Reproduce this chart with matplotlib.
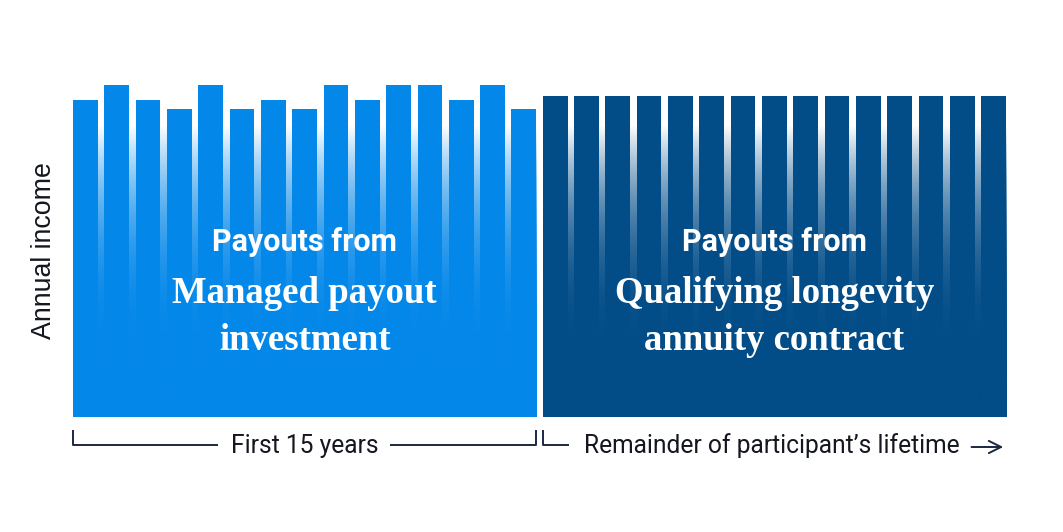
import numpy as np
import matplotlib.pyplot as plt
from matplotlib.colors import to_rgb

# ==========================
# Dados
# ==========================
# Renda anual (unidades arbitrárias) para cada ano
managed_income = [317, 332, 317, 308, 332, 308, 317, 308, 332, 317, 332, 332, 317, 332, 308]
annuity_income = [321] * 15

managed_label = ["Payouts from", "Managed payout\ninvestment"]
annuity_label = ["Payouts from", "Qualifying longevity\nannuity contract"]
period_labels = ["First 15 years", "Remainder of participant\u2019s lifetime"]
y_label = "Annual income"

# ==========================
# Estilo
# ==========================
c_managed = "#0387E9"
c_annuity = "#024C87"
c_text = "#14171f"
c_line = "#1b2740"
bar_w = 0.79

fig = plt.figure(figsize=(10.63, 5.32), dpi=100)
ax = fig.add_axes([73 / 1063, (532 - 417) / 532, 933 / 1063, 417 / 532])

n1 = len(managed_income)
n2 = len(annuity_income)
x1 = np.arange(n1)
x2 = np.arange(n1, n1 + n2)


def gradient(color):
    # faixa que desbota do azul (embaixo) para branco (em cima)
    h = np.linspace(0, 417, 400)
    s = np.clip((h - 57) / 235, 0, 1)
    alpha = 1 - s ** 2.5
    rgba = np.zeros((len(h), 1, 4))
    rgba[:, 0, :3] = to_rgb(color)
    rgba[:, 0, 3] = alpha
    return rgba


ax.imshow(gradient(c_managed), extent=[0, n1 - 1 + bar_w, 0, 417],
          origin="lower", aspect="auto", zorder=1, interpolation="bilinear")
ax.imshow(gradient(c_annuity), extent=[n1, n1 + n2 - 1 + bar_w, 0, 417],
          origin="lower", aspect="auto", zorder=1, interpolation="bilinear")

ax.bar(x1, managed_income, width=bar_w, align="edge", color=c_managed, zorder=2)
ax.bar(x2, annuity_income, width=bar_w, align="edge", color=c_annuity, zorder=2)

ax.set_xlim(0, n1 + n2 - 1 + bar_w)
ax.set_ylim(0, 417)
ax.axis("off")

# ==========================
# Textos dentro das barras
# ==========================
cx1 = (n1 - 1 + bar_w) / 2
cx2 = n1 + (n2 - 1 + bar_w) / 2
for cx, lab in [(cx1, managed_label), (cx2, annuity_label)]:
    ax.text(cx, 175, lab[0], ha="center", va="center", color="white",
            fontsize=22, fontweight="bold", family="Roboto", zorder=3)
    ax.text(cx, 100, lab[1], ha="center", va="center", color="white",
            fontsize=26.5, fontweight="bold", family="Liberation Serif",
            linespacing=1.42, zorder=3)

fig.text(44 / 1063, 1 - 251 / 532, y_label, rotation=90, ha="center", va="center",
         fontsize=19.3, family="Liberation Sans", color=c_text)

# ==========================
# Colchetes de período
# ==========================
yb = -28
yt = -14
x_end1 = n1 - 1 + bar_w
ax.plot([0, 0, 4.6], [yt, yb, yb], color=c_line, lw=1.4, clip_on=False)
ax.plot([10.15, x_end1, x_end1], [yb, yb, yt], color=c_line, lw=1.4, clip_on=False)
ax.plot([n1, n1, n1 + 0.8], [yt, yb, yb], color=c_line, lw=1.4, clip_on=False)

ax.text(cx1, yb - 1, period_labels[0], ha="center", va="center",
        fontsize=17.7, family="Roboto", color=c_text)
ax.text(n1 + 1.3, yb - 1, period_labels[1], ha="left", va="center",
        fontsize=17.7, family="Roboto", color=c_text)
ax.annotate("", xy=(n1 + n2 - 1 + bar_w, yb - 2), xytext=(28.6, yb - 2),
            arrowprops=dict(arrowstyle="->", color=c_line, lw=1.4,
                            mutation_scale=22), annotation_clip=False)

plt.savefig("out.png", dpi=100)
plt.close()
